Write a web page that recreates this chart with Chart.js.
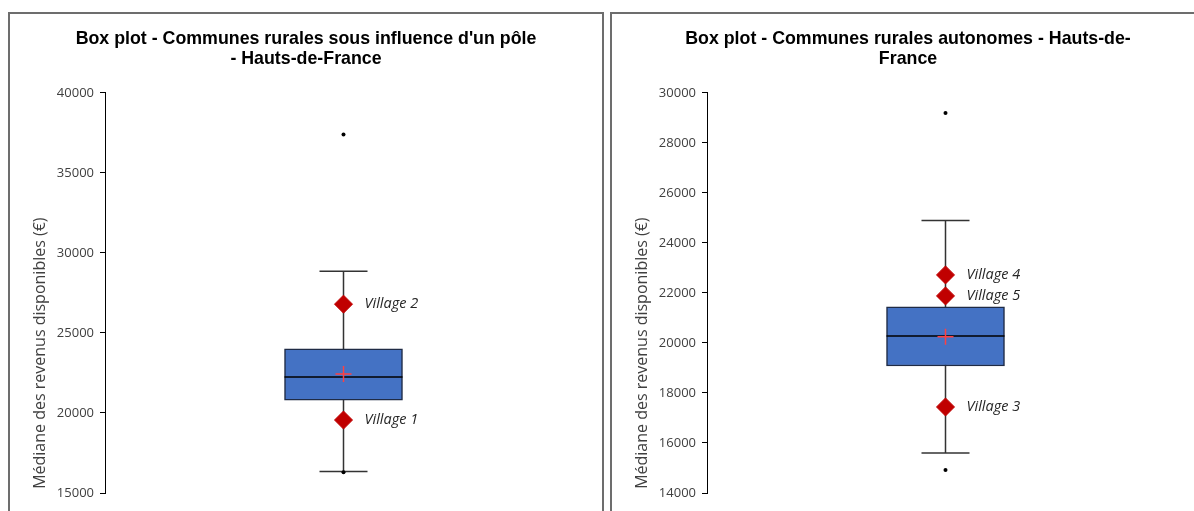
<!DOCTYPE html>
<html>
<head>
<meta charset="utf-8">
<script src="https://cdn.jsdelivr.net/npm/chart.js@4.4.1/dist/chart.umd.min.js"></script>
<style>
  body { margin: 0; background: #fff; overflow: hidden; }
  .panel { position: absolute; top: 12px; width: 592px; height: 540px; border: 2px solid #6d6d6d; background: #fff; }
  #p1 { left: 8px; }
  #p2 { left: 610px; }
  canvas { display: block; }
</style>
</head>
<body>
<div class="panel" id="p1"><canvas id="c1" width="592" height="520"></canvas></div>
<div class="panel" id="p2"><canvas id="c2" width="592" height="520"></canvas></div>
<script>
const category = ["Hauts-de-France"];
const axisTitle = " Médiane des revenus disponibles (€)";

// left: communes rurales sous influence d'un pôle
const leftTitle = ["Box plot - Communes rurales sous influence d'un pôle", "- Hauts-de-France"];
const leftQuartiles = [20800, 22250, 24000]; // Q1, median, Q3
const leftWhiskers = [16350, 28850];
const leftMean = [22440];
const leftOutliers = [16300, 37400];
const leftVillageNames = ["Village 1", "Village 2"];
const leftVillageValues = [19560, 26800];
const leftTicks = [15000, 20000, 25000, 30000, 35000, 40000];

// right: communes rurales autonomes
const rightTitle = ["Box plot - Communes rurales autonomes - Hauts-de-", "France"];
const rightQuartiles = [19080, 20280, 21440];
const rightWhiskers = [15600, 24900];
const rightMean = [20250];
const rightOutliers = [14920, 29200];
const rightVillageNames = ["Village 3", "Village 4", "Village 5"];
const rightVillageValues = [17440, 22720, 21880];
const rightTicks = [14000, 16000, 18000, 20000, 22000, 24000, 26000, 28000, 30000];

const pts = (vals) => vals.map(v => ({ x: category[0], y: v }));

// writes the village names next to the red diamonds
const villageLabels = {
  id: "villageLabels",
  afterDatasetsDraw(chart) {
    const ctx = chart.ctx;
    chart.data.datasets.forEach((ds, i) => {
      if (!ds.names) return;
      const meta = chart.getDatasetMeta(i);
      ctx.save();
      ctx.font = "italic 14.5px 'Open Sans'";
      ctx.fillStyle = "#262626";
      ctx.textBaseline = "middle";
      meta.data.forEach((el, j) => {
        ctx.fillText(ds.names[j], el.x + 21, el.y);
      });
      ctx.restore();
    });
  }
};

function makeBoxPlot(canvas, title, quartiles, whiskers, mean, outliers, names, villages, ticks) {
  return new Chart(canvas, {
    type: "bar",
    data: {
      labels: category,
      datasets: [
        {
          type: "line",
          data: pts(whiskers),
          borderColor: "#333",
          borderWidth: 1.5,
          pointRadius: 0,
          order: 10
        },
        {
          data: [[quartiles[0], quartiles[2]]],
          backgroundColor: "#4472C4",
          borderColor: "#1f2b45",
          borderWidth: 1.5,
          borderSkipped: false,
          barThickness: 118,
          order: 5
        },
        {
          type: "line",
          data: pts(whiskers),
          showLine: false,
          pointStyle: "line",
          pointRadius: 24,
          pointBorderColor: "#333",
          pointBorderWidth: 1.5,
          order: 4
        },
        {
          type: "line",
          data: pts([quartiles[1]]),
          showLine: false,
          pointStyle: "line",
          pointRadius: 59,
          pointBorderColor: "#000",
          pointBorderWidth: 1.5,
          order: 3
        },
        {
          type: "line",
          data: pts(mean),
          showLine: false,
          pointStyle: "cross",
          pointRadius: 8,
          pointBorderColor: "#ff4040",
          pointBorderWidth: 1.5,
          order: 2
        },
        {
          type: "line",
          data: pts(outliers),
          showLine: false,
          pointStyle: "circle",
          pointRadius: 2,
          pointBackgroundColor: "#000",
          pointBorderColor: "#000",
          pointBorderWidth: 0,
          order: 2
        },
        {
          type: "line",
          data: pts(villages),
          names: names,
          showLine: false,
          pointStyle: "rectRot",
          pointRadius: 9,
          pointBackgroundColor: "#c00000",
          pointBorderColor: "#c00000",
          pointBorderWidth: 1,
          order: 1
        }
      ]
    },
    options: {
      responsive: false,
      animation: false,
      layout: { autoPadding: false, padding: { top: 0, right: 0, bottom: 41, left: 0 } },
      plugins: {
        legend: { display: false },
        tooltip: { enabled: false },
        title: {
          display: true,
          text: title,
          color: "#000",
          font: { family: "'Liberation Sans', Arial", size: 17.8, weight: "bold", lineHeight: 1.12 },
          padding: { top: 15, bottom: 24 }
        }
      },
      scales: {
        x: { display: false },
        y: {
          min: ticks[0],
          max: ticks[ticks.length - 1],
          afterBuildTicks: (scale) => { scale.ticks = ticks.map(v => ({ value: v })); },
          afterFit: (scale) => { scale.width = 95; },
          border: { display: true, color: "#000", width: 1 },
          grid: { drawOnChartArea: false, drawTicks: true, tickLength: 5, tickColor: "#000" },
          ticks: {
            color: "#404040",
            padding: 6,
            font: { family: "'Open Sans'", size: 13 },
            callback: (v) => String(v)
          },
          title: {
            display: true,
            text: axisTitle,
            align: "start",
            color: "#404040",
            font: { family: "'Open Sans'", size: 16 },
            padding: { top: 21, bottom: 0 }
          }
        },
        // empty right-hand strip so the box sits where the reference has it
        y2: {
          position: "right",
          afterFit: (scale) => { scale.width = 20; },
          grid: { display: false },
          border: { display: false },
          ticks: { display: false }
        }
      }
    },
    plugins: [villageLabels]
  });
}

makeBoxPlot(document.getElementById("c1"), leftTitle, leftQuartiles, leftWhiskers, leftMean,
  leftOutliers, leftVillageNames, leftVillageValues, leftTicks);
makeBoxPlot(document.getElementById("c2"), rightTitle, rightQuartiles, rightWhiskers, rightMean,
  rightOutliers, rightVillageNames, rightVillageValues, rightTicks);
</script>
</body>
</html>
